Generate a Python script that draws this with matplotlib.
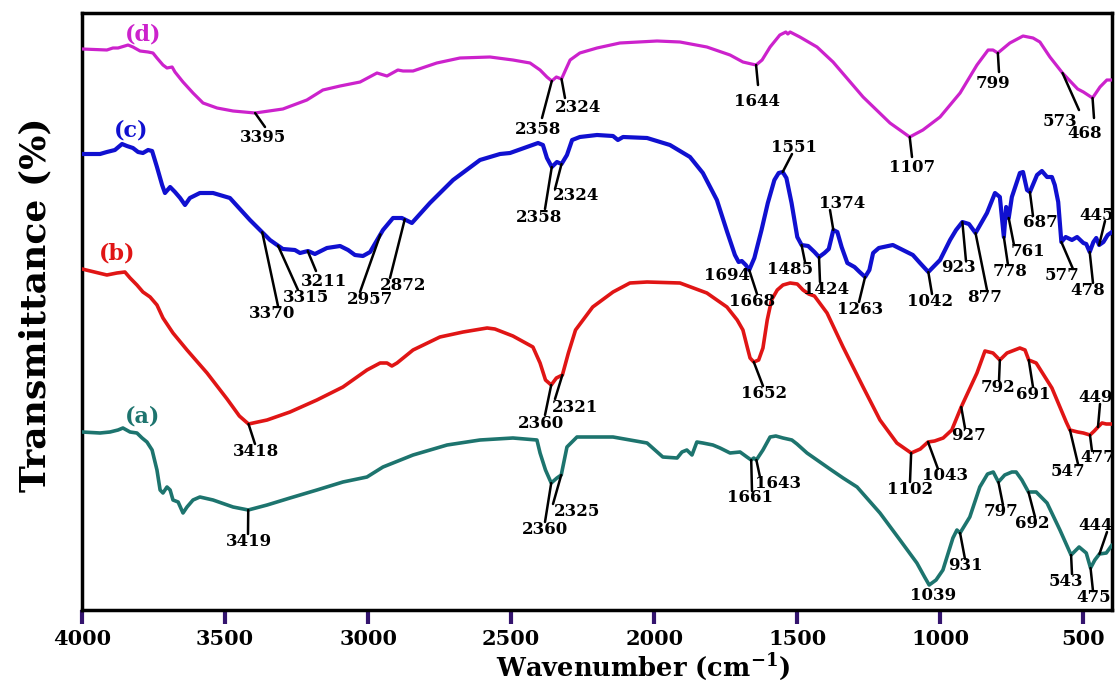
import numpy as np
import matplotlib
matplotlib.use("Agg")
import matplotlib.pyplot as plt

plt.rcParams['font.family'] = 'DejaVu Serif'
plt.rcParams['font.weight'] = 'bold'
plt.rcParams['mathtext.fontset'] = 'dejavuserif'

W, H = 1115, 684

# ---- spectra: wavenumber (cm-1) and transmittance (arb., stacked) ----
# (d)
d_wn = [4000, 3913, 3892, 3874, 3839, 3822, 3797, 3769, 3752, 3738,
        3717, 3703, 3685, 3675, 3647, 3612, 3577, 3528, 3472, 3395,
        3298, 3214, 3158, 3098, 3028, 2969, 2934, 2896, 2878, 2843,
        2760, 2679, 2574, 2494, 2434, 2399, 2375, 2358, 2342, 2324,
        2310, 2294, 2260, 2200, 2120, 1990, 1910, 1816, 1735, 1690,
        1660, 1644, 1623, 1595, 1561, 1540, 1533, 1525, 1491, 1431,
        1375, 1270, 1176, 1107, 1061, 1001, 931, 872, 833, 816,
        799, 757, 711, 676, 652, 617, 573, 540, 520, 500,
        468, 442, 418, 400]
d_T = [561, 560, 562, 562, 565, 563, 559, 558, 557, 552,
       545, 542, 543, 538, 528, 517, 507, 502, 499, 497,
       501, 510, 520, 524, 528, 537, 534, 540, 539, 539,
       547, 552, 553, 550, 547, 540, 533, 529, 533, 531,
       540, 550, 557, 562, 567, 569, 568, 563, 555, 548,
       546, 545, 550, 563, 575, 578, 576, 578, 573, 563,
       548, 513, 487, 473, 480, 493, 517, 545, 560, 560,
       557, 567, 574, 572, 568, 553, 537, 527, 521, 518,
       512, 523, 530, 530]

# (c)
c_wn = [4000, 3937, 3913, 3885, 3860, 3843, 3822, 3804, 3787, 3769,
        3755, 3738, 3720, 3710, 3692, 3675, 3657, 3640, 3623, 3588,
        3542, 3483, 3413, 3343, 3298, 3256, 3238, 3210, 3186, 3144,
        3098, 3070, 3046, 3018, 2993, 2948, 2913, 2882, 2847, 2784,
        2703, 2609, 2539, 2504, 2445, 2406, 2389, 2375, 2358, 2340,
        2324, 2305, 2287, 2260, 2200, 2144, 2127, 2109, 2025, 1945,
        1875, 1830, 1781, 1745, 1718, 1705, 1694, 1680, 1668, 1650,
        1625, 1603, 1580, 1565, 1551, 1538, 1520, 1500, 1485, 1462,
        1440, 1424, 1405, 1390, 1374, 1360, 1345, 1325, 1300, 1282,
        1263, 1248, 1235, 1215, 1166, 1117, 1096, 1071, 1042, 1001,
        966, 945, 923, 900, 877, 855, 837, 809, 792, 778,
        770, 761, 750, 722, 711, 697, 687, 662, 645, 627,
        610, 600, 588, 577, 562, 540, 522, 500, 490, 478,
        465, 455, 445, 430, 415, 400]
c_T = [456, 456, 458, 460, 466, 464, 462, 458, 457, 460,
       459, 443, 425, 417, 423, 418, 412, 405, 412, 417,
       417, 412, 390, 370, 361, 360, 357, 359, 356, 362,
       364, 360, 355, 354, 358, 380, 392, 392, 387, 407,
       430, 450, 456, 457, 463, 467, 465, 452, 443, 448,
       446, 455, 470, 473, 475, 474, 470, 473, 472, 465,
       453, 437, 410, 378, 355, 348, 349, 345, 340, 352,
       380, 407, 430, 437, 438, 432, 407, 373, 365, 364,
       358, 353, 357, 361, 380, 378, 363, 347, 343, 338,
       333, 340, 357, 362, 365, 358, 355, 347, 338, 350,
       370, 380, 388, 386, 377, 388, 397, 417, 413, 373,
       403, 392, 413, 437, 438, 420, 418, 435, 439, 433,
       433, 425, 408, 368, 373, 370, 373, 367, 366, 358,
       368, 372, 365, 368, 375, 378]

# (b)
b_wn = [4000, 3913, 3878, 3850, 3832, 3808, 3787, 3762, 3738, 3717,
        3682, 3633, 3563, 3493, 3450, 3418, 3353, 3273, 3179, 3088,
        3004, 2958, 2934, 2917, 2899, 2843, 2749, 2668, 2584, 2557,
        2494, 2424, 2399, 2380, 2360, 2342, 2321, 2300, 2275, 2215,
        2144, 2085, 2025, 1910, 1816, 1746, 1710, 1690, 1675, 1665,
        1652, 1635, 1620, 1605, 1590, 1570, 1550, 1525, 1500, 1480,
        1460, 1440, 1396, 1340, 1270, 1211, 1152, 1102, 1070, 1043,
        1020, 990, 960, 927, 872, 844, 816, 792, 767, 722,
        704, 691, 665, 610, 560, 547, 520, 500, 477, 462,
        449, 435, 420, 400]
b_T = [341, 335, 337, 338, 332, 325, 318, 313, 305, 292,
       277, 260, 237, 211, 194, 186, 190, 198, 210, 223,
       240, 247, 247, 244, 247, 260, 273, 278, 282, 281,
       274, 263, 247, 230, 225, 232, 235, 257, 280, 303,
       318, 327, 328, 327, 317, 303, 290, 280, 263, 252,
       248, 250, 262, 290, 310, 320, 325, 327, 326, 320,
       316, 314, 297, 263, 223, 190, 167, 157, 161, 168,
       169, 172, 180, 203, 237, 259, 257, 250, 257, 262,
       260, 250, 247, 222, 188, 180, 178, 177, 175, 179,
       183, 187, 186, 186]

# (a)
a_wn = [4000, 3937, 3902, 3874, 3857, 3832, 3808, 3790, 3773, 3755,
        3738, 3727, 3717, 3703, 3692, 3682, 3664, 3647, 3633, 3612,
        3588, 3542, 3472, 3419, 3353, 3273, 3179, 3088, 3004, 2948,
        2913, 2843, 2724, 2609, 2494, 2410, 2399, 2380, 2360, 2340,
        2325, 2305, 2270, 2144, 2025, 1970, 1920, 1903, 1886, 1868,
        1851, 1830, 1795, 1770, 1735, 1700, 1676, 1661, 1652, 1643,
        1620, 1595, 1575, 1550, 1519, 1501, 1466, 1431, 1386, 1340,
        1291, 1211, 1141, 1082, 1055, 1039, 1015, 991, 956, 942,
        931, 897, 862, 835, 815, 797, 775, 750, 735, 715,
        692, 665, 627, 582, 543, 515, 490, 475, 460, 444,
        420, 400]
a_T = [178, 177, 178, 180, 182, 178, 177, 172, 168, 160,
       140, 120, 117, 123, 120, 110, 108, 97, 103, 110,
       113, 110, 103, 100, 105, 112, 120, 128, 133, 143,
       147, 155, 165, 170, 172, 170, 157, 140, 127, 132,
       135, 163, 173, 173, 167, 153, 152, 158, 160, 155,
       168, 167, 165, 162, 157, 158, 153, 150, 152, 150,
       160, 173, 174, 172, 170, 166, 157, 150, 141, 132,
       123, 97, 70, 47, 33, 25, 30, 40, 72, 80,
       77, 93, 123, 136, 138, 128, 135, 138, 138, 130,
       118, 118, 107, 80, 55, 63, 57, 42, 50, 56,
       57, 65]

# assigned band positions (cm-1)
d_peaks = [3395, 2358, 2324, 1644, 1107, 799, 573, 468]
c_peaks = [3370, 3315, 3211, 2957, 2872, 2358, 2324, 1694, 1668, 1551, 1485,
           1424, 1374, 1263, 1042, 923, 877, 778, 761, 687, 577, 478, 445]
b_peaks = [3418, 2360, 2321, 1652, 1102, 1043, 927, 792, 691, 547, 477, 449]
a_peaks = [3419, 2360, 2325, 1661, 1643, 1039, 931, 797, 692, 543, 475, 444]

xticks = [4000, 3500, 3000, 2500, 2000, 1500, 1000, 500]

# label placement, figure pixels from top-left: (line end, text centre)
d_place = [((265, 127), (263, 138)), ((542, 118), (538, 129)),
           ((565, 98), (578, 108)), ((758, 85), (757, 101)),
           ((912, 157), (912, 168)), ((999, 72), (993, 84)),
           ((1079, 110), (1060, 121)), ((1094, 118), (1085, 134))]
c_place = [((278, 306), (272, 314)), ((298, 290), (306, 298)),
           ((316, 271), (324, 281)), ((360, 292), (370, 299)),
           ((390, 278), (403, 285)), ((545, 209), (539, 217)),
           ((555, 189), (576, 196)), (None, (727, 275)),
           ((757, 294), (752, 301)), ((792, 154), (794, 148)),
           ((805, 262), (790, 269)), ((820, 282), (826, 289)),
           ((830, 210), (842, 204)), ((859, 302), (860, 309)),
           ((932, 294), (930, 301)), ((966, 261), (958, 268)),
           ((987, 290), (985, 297)), ((1008, 265), (1010, 272)),
           ((1014, 245), (1028, 252)), ((1033, 216), (1040, 223)),
           ((1073, 269), (1062, 276)), ((1093, 283), (1088, 290)),
           ((1105, 221), (1097, 215))]
b_place = [((255, 444), (256, 452)), ((545, 415), (541, 423)),
           ((555, 399), (575, 407)), ((763, 386), (764, 393)),
           ((910, 482), (910, 489)), ((938, 469), (945, 476)),
           ((965, 428), (968, 435)), ((999, 381), (998, 388)),
           ((1033, 387), (1033, 394)), ((1078, 464), (1068, 471)),
           ((1092, 451), (1098, 458)), ((1100, 404), (1096, 398))]
a_place = [((248, 534), (249, 541)), ((545, 522), (545, 529)),
           ((553, 504), (577, 511)), ((752, 491), (750, 498)),
           ((760, 477), (778, 484)), (None, (933, 596)),
           ((965, 559), (965, 566)), ((1003, 505), (1001, 512)),
           ((1035, 517), (1032, 524)), ((1072, 574), (1066, 581)),
           ((1093, 591), (1094, 598)), ((1107, 532), (1096, 526))]

series = [
    ('(d)', d_wn, d_T, d_peaks, d_place, '#CC22CC', 2.3, (143, 35)),
    ('(c)', c_wn, c_T, c_peaks, c_place, '#1010D0', 3.0, (131, 131)),
    ('(b)', b_wn, b_T, b_peaks, b_place, '#E01515', 2.6, (117, 253)),
    ('(a)', a_wn, a_T, a_peaks, a_place, '#1D746E', 2.6, (143, 416)),
]

fig = plt.figure(figsize=(W / 100, H / 100), dpi=100)
ax = fig.add_axes([82 / W, 1 - 610 / H, (1112 - 82) / W, (610 - 13) / H])

for name, wn, T, peaks, place, color, lw, name_pos in series:
    wn = np.array(wn, dtype=float)
    T = np.array(T, dtype=float)
    ax.plot(wn, T, color=color, lw=lw, solid_joinstyle='round',
            solid_capstyle='round', zorder=3)
    fig.text(name_pos[0] / W, 1 - name_pos[1] / H, name, color=color,
             fontsize=16, fontweight='bold', ha='center', va='center')

    # tick marks and band labels
    for p, (end, txt) in zip(peaks, place):
        y = np.interp(p, wn[::-1], T[::-1])
        if end is not None:
            ax.annotate('', xy=(p, y), xycoords='data',
                        xytext=(end[0], H - end[1]), textcoords='figure pixels',
                        arrowprops=dict(arrowstyle='-', color='black', lw=1.8,
                                        shrinkA=0, shrinkB=0),
                        zorder=4)
        fig.text(txt[0] / W, 1 - txt[1] / H, str(p), fontsize=12,
                 fontweight='bold', ha='center', va='center', color='black')

ax.set_xlim(4000, 400)
ax.set_ylim(0, 597)
ax.set_xticks(xticks)
ax.set_xticklabels([str(t) for t in xticks], fontsize=15, fontweight='bold')
ax.set_yticks([])
ax.tick_params(axis='x', direction='out', length=10, width=3,
               color='#34146E', pad=4)
for s in ax.spines.values():
    s.set_linewidth(2.5)
    s.set_color('black')

fig.text(643 / W, 1 - 667 / H, r'Wavenumber (cm$^{\mathbf{-1}}$)',
         fontsize=18.5, fontweight='bold', ha='center', va='center')
fig.text(35 / W, 1 - 305 / H, 'Transmittance (%)', fontsize=26,
         fontweight='bold', rotation=90, ha='center', va='center')

fig.savefig('out.png', dpi=100)
